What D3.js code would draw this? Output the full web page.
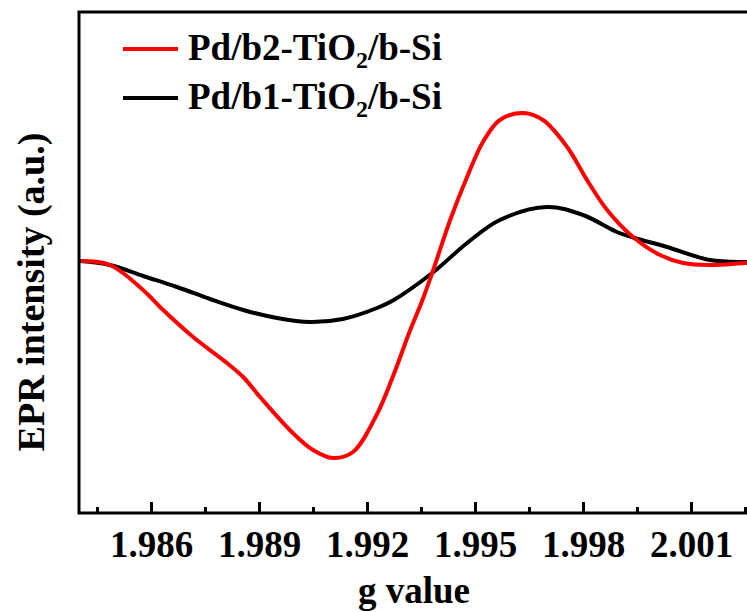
<!DOCTYPE html>
<html>
<head>
<meta charset="utf-8">
<script src="https://cdn.jsdelivr.net/npm/d3@7"></script>
<style>
  html, body { margin: 0; padding: 0; background: #fff; }
  svg { display: block; }
  text { font-family: "Liberation Serif", "Times New Roman", serif; font-weight: bold; fill: #000; }
</style>
</head>
<body>
<div id="chart"></div>
<script>
/*
 * EPR spectra, g value vs. intensity
 */

// g values / intensities (a.u.) for each sample
var gRed = [1.98406, 1.98486, 1.98578, 1.98625, 1.98717, 1.98811, 1.98856, 1.98903, 1.98994, 1.99050,
            1.99106, 1.99161, 1.99228, 1.99272, 1.99319, 1.99353, 1.99383, 1.99431, 1.99478, 1.99522,
            1.99569, 1.99633, 1.99689, 1.99756, 1.99811, 1.99867, 1.99939, 2.00014, 2.00078, 2.00153, 2.00256, 2.00330];
var iRed = [0, -0.016, -0.116, -0.184, -0.304, -0.408, -0.464, -0.544, -0.688, -0.756,
            -0.788, -0.764, -0.612, -0.462, -0.280, -0.160, -0.040, 0.164, 0.336, 0.476,
            0.564, 0.592, 0.564, 0.456, 0.324, 0.204, 0.096, 0.024, -0.008, -0.016, -0.008, -0.006];

var gBlack = [1.98403, 1.98486, 1.98578, 1.98672, 1.98764, 1.98856, 1.98950, 1.99042, 1.99133, 1.99228,
              1.99272, 1.99383, 1.99478, 1.99569, 1.99700, 1.99800, 1.99894, 1.99939, 2.00033, 2.00153, 2.00256, 2.00330];
var iBlack = [0, -0.016, -0.060, -0.104, -0.152, -0.196, -0.228, -0.244, -0.232, -0.188,
              -0.158, -0.046, 0.072, 0.164, 0.216, 0.184, 0.116, 0.094, 0.056, 0.004, -0.004, -0.004];

var majorTicks = [1.986, 1.989, 1.992, 1.995, 1.998, 2.001];
var minorTicks = [1.9845, 1.9875, 1.9905, 1.9935, 1.9965, 1.9995, 2.0025];

var seriesNames = ['Pd/b2-TiO|2|/b-Si', 'Pd/b1-TiO|2|/b-Si'];
var seriesColours = ['#ff0000', '#000000'];

var width = 747,
    height = 612,
    margin = { left: 79, top: 12, bottom: 99 };

var svg = d3.select('#chart')
    .append('svg')
    .attr('width', width)
    .attr('height', height);

// frame runs past the right edge of the page
var gMin = 1.984, gMax = 2.0033;
var x = d3.scaleLinear()
    .domain([gMin, gMax])
    .range([margin.left, margin.left + (gMax - gMin) * 36000]);

var y = d3.scaleLinear()
    .domain([-1.008, 0.996])
    .range([height - margin.bottom, margin.top]);

var series = [
    gRed.map(function (g, i) { return [g, iRed[i]]; }),
    gBlack.map(function (g, i) { return [g, iBlack[i]]; })
];

var line = d3.line()
    .x(function (d) { return x(d[0]); })
    .y(function (d) { return y(d[1]); })
    .curve(d3.curveCatmullRom.alpha(0.5));

// curves, black drawn first so red sits on top
[1, 0].forEach(function (k) {
    svg.append('path')
        .datum(series[k])
        .attr('fill', 'none')
        .attr('stroke', seriesColours[k])
        .attr('stroke-width', 4)
        .attr('stroke-linejoin', 'round')
        .attr('d', line);
});

// frame
var x0 = x.range()[0], x1 = x.range()[1], y0 = y.range()[0], y1 = y.range()[1];
svg.append('rect')
    .attr('x', x0)
    .attr('y', y1)
    .attr('width', x1 - x0)
    .attr('height', y0 - y1)
    .attr('fill', 'none')
    .attr('stroke', '#000')
    .attr('stroke-width', 3);

// bottom axis, ticks pointing inward
var axis = svg.append('g')
    .attr('transform', 'translate(0,' + y0 + ')')
    .call(d3.axisBottom(x)
        .tickValues(majorTicks)
        .tickSize(-11)
        .tickFormat(d3.format('.3f')));

axis.select('.domain').remove();
axis.selectAll('.tick line').attr('stroke-width', 3);
axis.selectAll('.tick text')
    .attr('y', 44)
    .attr('dy', 0)
    .style('font-size', '37px');

svg.append('g')
    .attr('transform', 'translate(0,' + y0 + ')')
    .call(d3.axisBottom(x).tickValues(minorTicks).tickSize(-6).tickFormat(''))
    .call(function (g) {
        g.select('.domain').remove();
        g.selectAll('.tick line').attr('stroke-width', 3);
    });

// axis titles
svg.append('text')
    .attr('x', 414)
    .attr('y', 603)
    .attr('text-anchor', 'middle')
    .style('font-size', '37px')
    .text('g value');

svg.append('text')
    .attr('transform', 'translate(44,292) rotate(-90)')
    .attr('text-anchor', 'middle')
    .style('font-size', '38px')
    .text('EPR intensity (a.u.)');

// legend
var legendY = [49, 98];
seriesNames.forEach(function (name, i) {
    svg.append('line')
        .attr('x1', 123)
        .attr('x2', 178)
        .attr('y1', legendY[i])
        .attr('y2', legendY[i])
        .attr('stroke', seriesColours[i])
        .attr('stroke-width', 4);

    var parts = name.split('|');
    var t = svg.append('text')
        .attr('x', 188)
        .attr('y', legendY[i] + 11)
        .style('font-size', '37px');
    t.append('tspan').text(parts[0]);
    t.append('tspan').attr('dy', 8).style('font-size', '24px').text(parts[1]);
    t.append('tspan').attr('dy', -8).text(parts[2]);
});
</script>
</body>
</html>
